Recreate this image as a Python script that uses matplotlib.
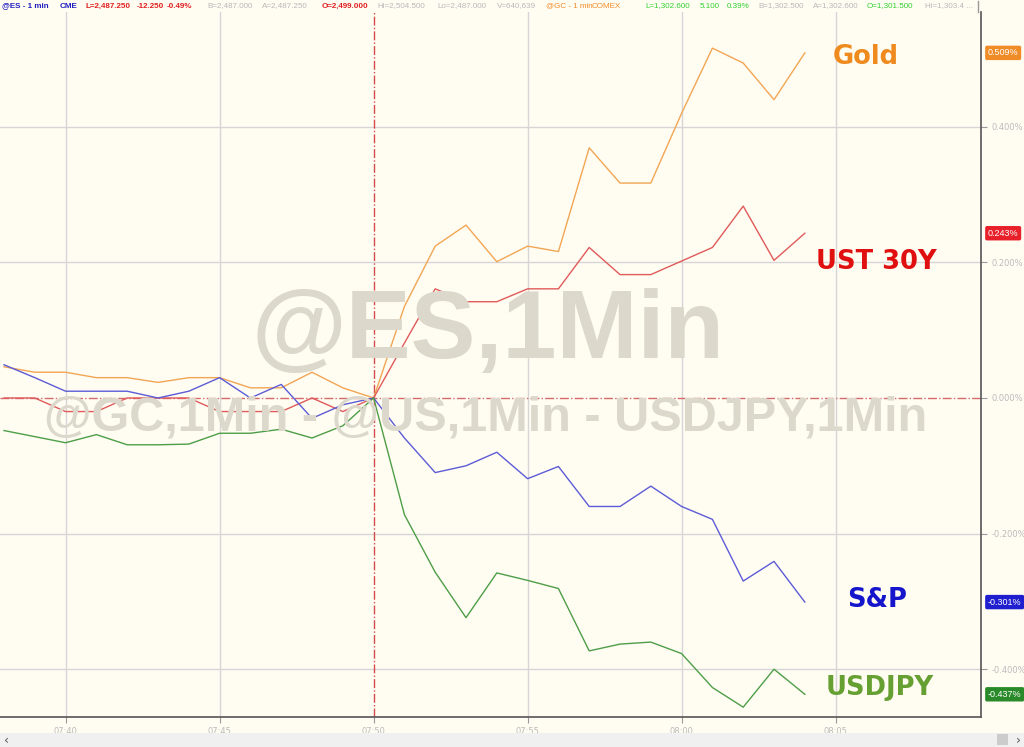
import matplotlib
matplotlib.use("Agg")
import matplotlib.pyplot as plt
from matplotlib.patches import Rectangle
from matplotlib.transforms import blended_transform_factory

# minutes after 07:00, one point per minute
minutes = list(range(38, 65))

gold = [0.046, 0.038, 0.038, 0.030, 0.030, 0.023, 0.030, 0.030, 0.015, 0.015, 0.038, 0.015, 0.0,
        0.135, 0.224, 0.255, 0.201, 0.224, 0.216, 0.369, 0.317, 0.317, 0.420, 0.516, 0.494, 0.440, 0.509]
ust30 = [0.0, 0.0, -0.020, -0.020, 0.0, 0.0, 0.0, -0.020, -0.020, -0.020, 0.0, -0.020, 0.0,
         0.081, 0.161, 0.142, 0.142, 0.161, 0.161, 0.222, 0.182, 0.182, 0.202, 0.222, 0.283, 0.203, 0.243]
spx = [0.049, 0.030, 0.010, 0.010, 0.010, 0.0, 0.010, 0.030, 0.0, 0.020, -0.030, -0.010, 0.0,
       -0.059, -0.110, -0.100, -0.080, -0.119, -0.101, -0.160, -0.160, -0.130, -0.160, -0.179, -0.270, -0.241, -0.301]
usdjpy = [-0.048, -0.057, -0.066, -0.054, -0.069, -0.069, -0.068, -0.052, -0.052, -0.046, -0.059, -0.041, 0.0,
          -0.172, -0.257, -0.324, -0.258, -0.269, -0.281, -0.373, -0.363, -0.360, -0.377, -0.427, -0.456, -0.400, -0.437]

last_labels = ["0.509%", "0.243%", "-0.301%", "-0.437%"]
names = ["Gold", "UST 30Y", "S&P", "USDJPY"]

xticks = [40, 45, 50, 55, 60, 65]
xtick_labels = ["07:40", "07:45", "07:50", "07:55", "08:00", "08:05"]
yticks = [-0.4, -0.2, 0.0, 0.2, 0.4]

bg = "#fffcf2"
line_cols = ["#f2a654", "#e05a5a", "#5c5cd6", "#4e9e48"]
box_cols = ["#f08c28", "#e8202a", "#1f1fd0", "#2a8a2a"]
name_cols = ["#ee8a1e", "#e01010", "#1515cc", "#66a032"]

fig = plt.figure(figsize=(10.24, 7.47), dpi=100, facecolor=bg)
ax = fig.add_axes([0.0, 30 / 747, 981 / 1024, 705 / 747], facecolor=bg)

# watermarks
fig.text(488 / 1024, 1 - 358 / 747, "@ES,1Min", fontsize=70, fontweight="bold",
         family="Liberation Sans", color="#dcd8cc", ha="center", va="baseline", zorder=0)
fig.text(486 / 1024, 1 - 430 / 747, "@GC,1Min - @US,1Min - USDJPY,1Min", fontsize=35,
         fontweight="bold", family="Liberation Sans", color="#dcd8cc", ha="center",
         va="baseline", zorder=0)
ax.patch.set_alpha(0)

# grid
for t in xticks:
    if t != 50:
        ax.axvline(t, color="#d6d6d6", lw=1, zorder=1)
for t in yticks:
    if t != 0:
        ax.axhline(t, color="#d6d6d6", lw=1, zorder=1)
ax.axhline(0, color="#d46a6a", lw=1, ls="-.", zorder=1)
ax.axvline(50, color="#d64a4a", lw=1, ls="-.", zorder=1)

for series, c in zip([gold, ust30, spx, usdjpy], line_cols):
    ax.plot(minutes, series, color=c, lw=1.0, zorder=3)

ax.set_xlim(37.87, 69.72)
ax.set_ylim(-0.4705, 0.5693)

ax.set_xticks(xticks)
ax.set_xticklabels(xtick_labels)
ax.set_yticks(yticks)
ax.set_yticklabels(["%.3f%%" % v for v in yticks])
ax.yaxis.tick_right()
ax.tick_params(axis="both", colors="#999999", labelcolor="#bbbbbb", labelsize=6, length=4, width=0.8)
for s in ["top", "left"]:
    ax.spines[s].set_visible(False)
ax.spines["right"].set_color("#555555")
ax.spines["bottom"].set_color("#555555")
ax.spines["right"].set_linewidth(1.2)
ax.spines["bottom"].set_linewidth(1.2)

# last value boxes
trans = blended_transform_factory(ax.transAxes, ax.transData)
for series, lab, c in zip([gold, ust30, spx, usdjpy], last_labels, box_cols):
    ax.text(1.007, series[-1], lab, transform=trans, fontsize=6.5, color="white",
            ha="left", va="center", family="Liberation Sans", clip_on=False,
            bbox=dict(boxstyle="round,pad=0.3,rounding_size=0.2", fc=c, ec="none"))

# series names
name_pos = [(866, 57), (876, 262), (877, 600), (880, 688)]
for nm, c, (px, py) in zip(names, name_cols, name_pos):
    fig.text(px / 1024, 1 - py / 747, nm, fontsize=18.5, fontweight="bold",
             family="DejaVu Sans", color=c, ha="center", va="center")

# header
header = [
    (2, "@ES - 1 min", "#2020c0", "bold"), (60, "CME", "#2020c0", "bold"),
    (85, "L=2,487.250", "#e02020", "bold"), (137, "-12.250", "#e02020", "bold"),
    (167, "-0.49%", "#e02020", "bold"),
    (207, "B=2,487.000", "#b8b8b8", "normal"), (262, "A=2,487.250", "#b8b8b8", "normal"),
    (322, "O=2,499.000", "#e02020", "bold"), (377, "Hi=2,504.500", "#b8b8b8", "normal"),
    (437, "Lo=2,487.000", "#b8b8b8", "normal"), (497, "V=640,639", "#b8b8b8", "normal"),
    (546, "@GC - 1 min", "#f08c28", "normal"), (592, "COMEX", "#f08c28", "normal"),
    (645, "L=1,302.600", "#30d030", "normal"), (700, "5.100", "#30d030", "normal"),
    (727, "0.39%", "#30d030", "normal"),
    (758, "B=1,302.500", "#b8b8b8", "normal"), (813, "A=1,302.600", "#b8b8b8", "normal"),
    (867, "O=1,301.500", "#30d030", "normal"), (925, "Hi=1,303.4 ...", "#b8b8b8", "normal"),
]
for px, txt, c, w in header:
    fig.text(px / 1024, 1 - 6 / 747, txt, fontsize=5.8, fontweight=w,
             family="Liberation Sans", color=c, ha="left", va="center")
fig.add_artist(plt.Line2D([978 / 1024, 978 / 1024], [1 - 1 / 747, 1 - 12 / 747], color="#999999", lw=1))

# scrollbar
fig.patches.append(Rectangle((0, 0), 1, 14 / 747, transform=fig.transFigure, fc="#f0f0f0", ec="none"))
fig.patches.append(Rectangle((997 / 1024, 2 / 747), 11 / 1024, 11 / 747, transform=fig.transFigure,
                             fc="#cccccc", ec="none"))
fig.text(4 / 1024, 7 / 747, "\u2039", fontsize=9, color="#555555", va="center")
fig.text(1016 / 1024, 7 / 747, "\u203a", fontsize=9, color="#555555", va="center")

fig.savefig("out.png", dpi=100, facecolor=bg)
